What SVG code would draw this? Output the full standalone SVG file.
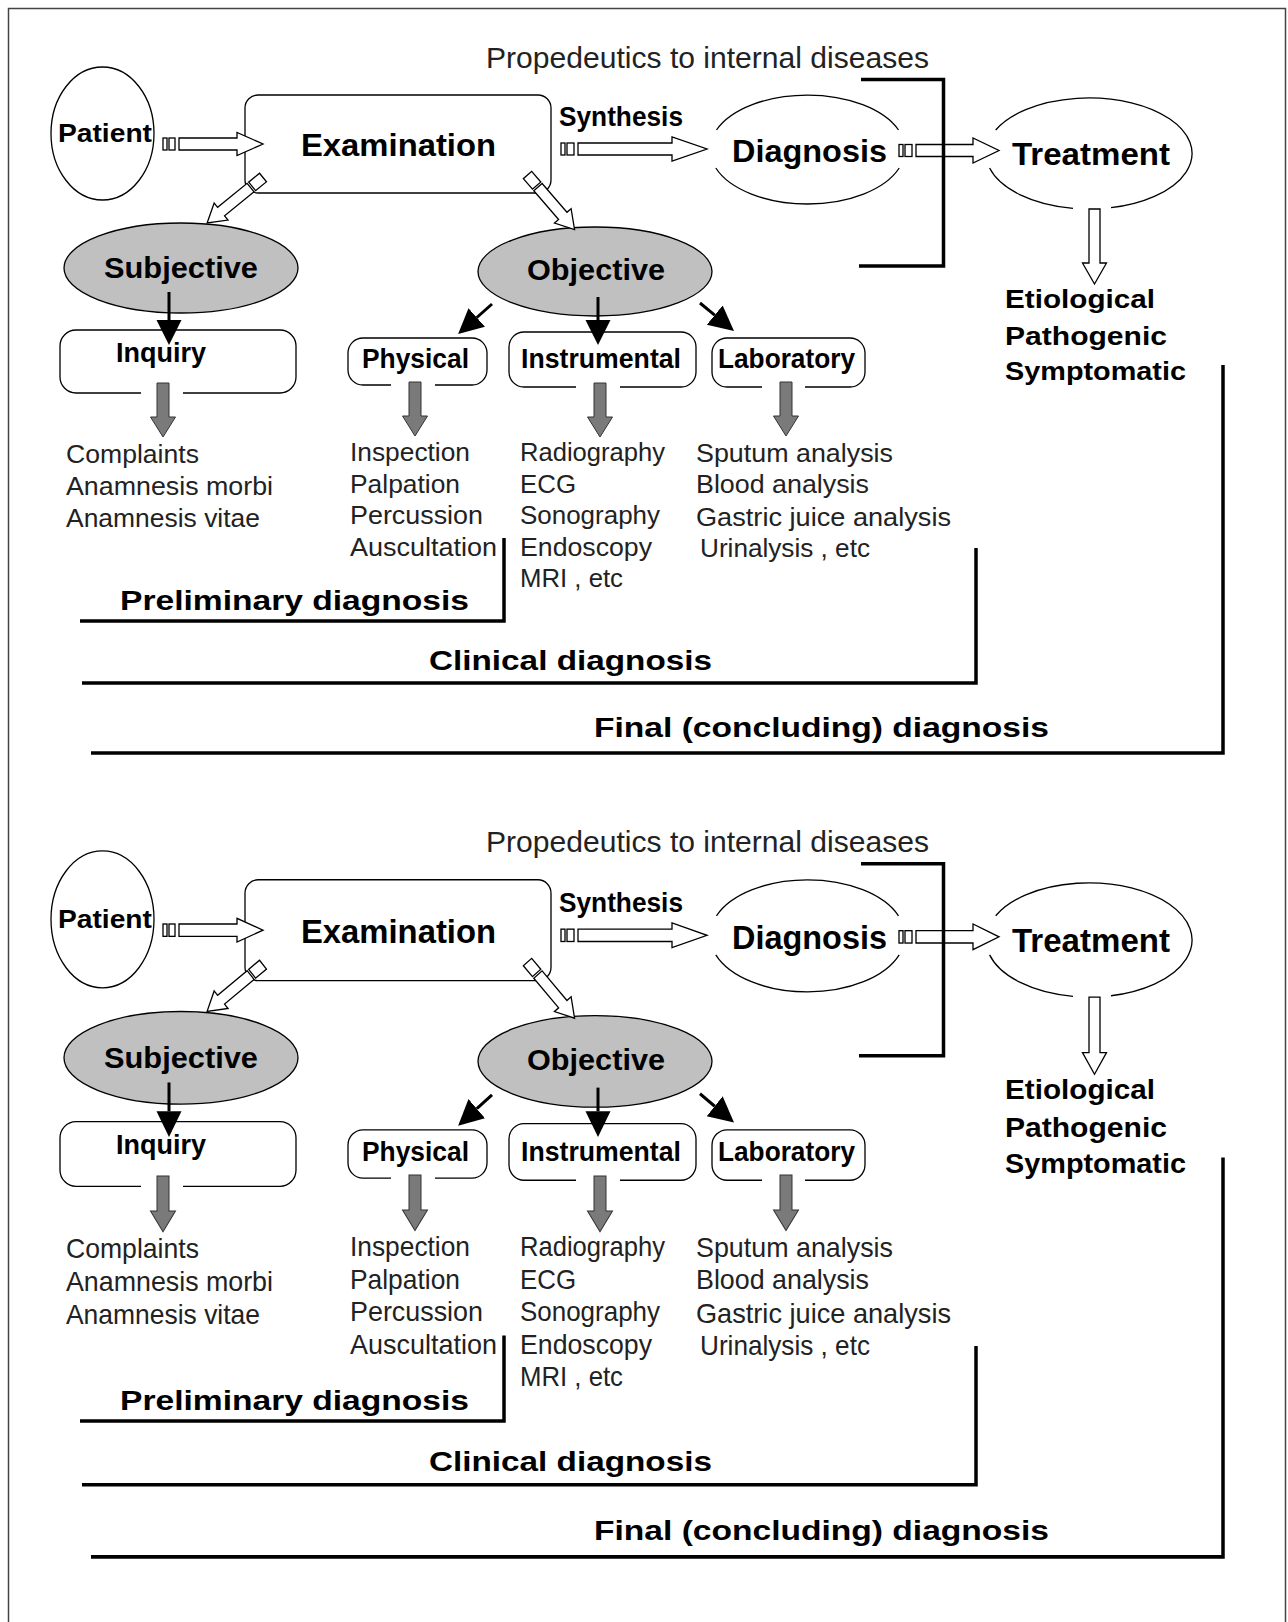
<svg xmlns="http://www.w3.org/2000/svg" xmlns:xlink="http://www.w3.org/1999/xlink" width="1288" height="1622" viewBox="0 0 1288 1622">
<style>
.node{fill:#fff;stroke:#000;stroke-width:1.3}
.arc{fill:none;stroke:#000;stroke-width:1.3}
.gray{fill:#c0c0c0;stroke:#000;stroke-width:1.3}
.hollow{fill:#fff;stroke:#000;stroke-width:1.3}
.blk{fill:none;stroke:#000;stroke-width:3;marker-end:url(#bh)}
.garrow{fill:#7a7a7a;stroke:#333;stroke-width:1}
.bracket{fill:none;stroke:#000;stroke-width:3.5}
.tb{font-family:"Liberation Sans",Arial,sans-serif;font-weight:bold;fill:#000}
.tr{font-family:"Liberation Sans",Arial,sans-serif;fill:#222}
.ti{font-family:"Liberation Sans",Arial,sans-serif;fill:#222;font-size:26px}
</style>
<defs>
<marker id="bh" markerUnits="userSpaceOnUse" markerWidth="26" markerHeight="26" refX="0" refY="12.5" orient="auto"><path d="M0,0 L25,12.5 L0,25 Z" fill="#000"/></marker>
<path id="ga" class="garrow" d="M-6,0 V34 H-12.5 L0,54 L12.5,34 H6 V0 Z"/>
</defs>
<rect x="0" y="0" width="1288" height="1622" fill="#fff"/>
<g id="frame"><path d="M8.5,1622 V8.5 H1285.5 V1622" fill="none" stroke="#444" stroke-width="1.5"/></g>

<g id="diagram-1">
 <g id="patient-1"><ellipse class="node" cx="102.5" cy="133.5" rx="51.5" ry="66.5"/><text class="tb" x="58" y="142" font-size="25" textLength="94" lengthAdjust="spacingAndGlyphs">Patient</text></g>
 <g id="examination-1"><rect class="node" x="245" y="95" width="306" height="98" rx="13"/><text class="tb" x="301" y="156" font-size="32" textLength="195" lengthAdjust="spacingAndGlyphs">Examination</text></g>
 <g id="diagnosis-1"><path class="arc" d="M716.5,130 A97.5,54.5 0 0 1 898.5,130 M715.8,168 A97.5,54.5 0 0 0 899.2,168"/><text class="tb" x="732" y="162" font-size="32" textLength="155" lengthAdjust="spacingAndGlyphs">Diagnosis</text></g>
 <g id="treatment-1"><path class="arc" d="M995.7,130 A103,55.5 0 1 1 1111,207.7 M989.6,168 A103,55.5 0 0 0 1073,208.3"/><text class="tb" x="1012" y="165" font-size="32" textLength="158" lengthAdjust="spacingAndGlyphs">Treatment</text></g>
 <g id="treatment-types-1"><text class="tb" x="1005" y="308" font-size="26" textLength="150" lengthAdjust="spacingAndGlyphs">Etiological</text><text class="tb" x="1005" y="345" font-size="26" textLength="162" lengthAdjust="spacingAndGlyphs">Pathogenic</text><text class="tb" x="1005" y="380" font-size="26" textLength="181" lengthAdjust="spacingAndGlyphs">Symptomatic</text></g>
 <g id="subjective-1"><ellipse class="gray" cx="181" cy="268" rx="117" ry="45"/><text class="tb" x="104" y="278" font-size="29" textLength="154" lengthAdjust="spacingAndGlyphs">Subjective</text></g>
 <g id="objective-1"><ellipse class="gray" cx="595" cy="271.5" rx="117" ry="44.5"/><text class="tb" x="527" y="280" font-size="29" textLength="138" lengthAdjust="spacingAndGlyphs">Objective</text></g>
 <g id="inquiry-1"><path class="arc" d="M183,393 H280 A16,16 0 0 0 296,377 V346 A16,16 0 0 0 280,330 H76 A16,16 0 0 0 60,346 V377 A16,16 0 0 0 76,393 H141"/><text class="tb" x="116" y="362" font-size="27" textLength="90" lengthAdjust="spacingAndGlyphs">Inquiry</text></g>
 <g id="physical-1"><path class="arc" d="M435,385 H472 A15,15 0 0 0 487,370 V353 A15,15 0 0 0 472,338 H363 A15,15 0 0 0 348,353 V370 A15,15 0 0 0 363,385 H391"/><text class="tb" x="362" y="368" font-size="27" textLength="107" lengthAdjust="spacingAndGlyphs">Physical</text></g>
 <g id="instrumental-1"><path class="arc" d="M620,387 H681 A15,15 0 0 0 696,372 V347 A15,15 0 0 0 681,332 H524 A15,15 0 0 0 509,347 V372 A15,15 0 0 0 524,387 H576"/><text class="tb" x="521" y="368" font-size="27" textLength="160" lengthAdjust="spacingAndGlyphs">Instrumental</text></g>
 <g id="laboratory-1"><path class="arc" d="M805,387 H850 A15,15 0 0 0 865,372 V353 A15,15 0 0 0 850,338 H727 A15,15 0 0 0 712,353 V372 A15,15 0 0 0 727,387 H762"/><text class="tb" x="718" y="368" font-size="27" textLength="137" lengthAdjust="spacingAndGlyphs">Laboratory</text></g>
 <g id="inquiry-items-1"><text class="ti" x="66" y="463" textLength="133" lengthAdjust="spacingAndGlyphs">Complaints</text><text class="ti" x="66" y="495" textLength="207" lengthAdjust="spacingAndGlyphs">Anamnesis morbi</text><text class="ti" x="66" y="527" textLength="194" lengthAdjust="spacingAndGlyphs">Anamnesis vitae</text></g>
 <g id="physical-items-1"><text class="ti" x="350" y="461" textLength="120" lengthAdjust="spacingAndGlyphs">Inspection</text><text class="ti" x="350" y="493" textLength="110" lengthAdjust="spacingAndGlyphs">Palpation</text><text class="ti" x="350" y="524" textLength="133" lengthAdjust="spacingAndGlyphs">Percussion</text><text class="ti" x="350" y="556" textLength="147" lengthAdjust="spacingAndGlyphs">Auscultation</text></g>
 <g id="instrumental-items-1"><text class="ti" x="520" y="461" textLength="145" lengthAdjust="spacingAndGlyphs">Radiography</text><text class="ti" x="520" y="493" textLength="56" lengthAdjust="spacingAndGlyphs">ECG</text><text class="ti" x="520" y="524" textLength="140" lengthAdjust="spacingAndGlyphs">Sonography</text><text class="ti" x="520" y="556" textLength="132" lengthAdjust="spacingAndGlyphs">Endoscopy</text><text class="ti" x="520" y="587" textLength="103" lengthAdjust="spacingAndGlyphs">MRI , etc</text></g>
 <g id="laboratory-items-1"><text class="ti" x="696" y="462" textLength="197" lengthAdjust="spacingAndGlyphs">Sputum analysis</text><text class="ti" x="696" y="493" textLength="173" lengthAdjust="spacingAndGlyphs">Blood analysis</text><text class="ti" x="696" y="526" textLength="255" lengthAdjust="spacingAndGlyphs">Gastric juice analysis</text><text class="ti" x="700" y="557" textLength="170" lengthAdjust="spacingAndGlyphs">Urinalysis , etc</text></g>
 <g id="connectors-1">
  <rect class="hollow" x="163" y="138" width="4" height="12"/><rect class="hollow" x="169" y="138" width="6" height="12"/>
  <path class="hollow" d="M179,138 H237 V132.5 L263,144 L237,155.5 V150 H179 Z"/>
  <rect class="hollow" x="561" y="143" width="4" height="12"/><rect class="hollow" x="567" y="143" width="7" height="12"/>
  <path class="hollow" d="M578,143 H672 V137 L707,149 L672,161 V155 H578 Z"/>
  <text class="tb" x="559" y="126" font-size="27" textLength="124" lengthAdjust="spacingAndGlyphs">Synthesis</text>
  <rect class="hollow" x="899" y="144.5" width="4" height="12"/><rect class="hollow" x="905" y="144.5" width="7" height="12"/>
  <path class="hollow" d="M916,144.5 H973 V138 L999,150.5 L973,163 V156.5 H916 Z"/>
  <path class="hollow" d="M1089,209 V263 H1082.5 L1094.5,284 L1106.5,263 H1100 V209 Z"/>
  <g transform="translate(263,177.5) rotate(140.9)"><rect class="hollow" x="0" y="-5.5" width="14" height="11"/><path class="hollow" d="M16,-5.5 H54 V-11 L72,0 L54,11 V5.5 H16 Z"/></g>
  <g transform="translate(527.5,175) rotate(49.2)"><rect class="hollow" x="0" y="-5.5" width="14" height="11"/><path class="hollow" d="M16,-5.5 H54 V-11 L72,0 L54,11 V5.5 H16 Z"/></g>
  <path class="blk" d="M169,292 V320"/>
  <path class="blk" d="M598,297 V320"/>
  <path class="blk" d="M492,304 L476.8,317.5"/>
  <path class="blk" d="M700,303 L714.7,315.1"/>
  <use xlink:href="#ga" href="#ga" x="163" y="383"/>
  <use xlink:href="#ga" href="#ga" x="415" y="382"/>
  <use xlink:href="#ga" href="#ga" x="600" y="383"/>
  <use xlink:href="#ga" href="#ga" x="786" y="382"/>
 </g>
 <g id="propedeutics-1"><text class="tr" x="486" y="68" font-size="29" textLength="443" lengthAdjust="spacingAndGlyphs">Propedeutics to internal diseases</text><path class="bracket" d="M861,79.5 H943.5 V266 H859"/></g>
 <g id="preliminary-1"><text class="tb" x="120" y="610" font-size="27" textLength="349" lengthAdjust="spacingAndGlyphs">Preliminary diagnosis</text><path class="bracket" d="M80,621 H504 V538"/></g>
 <g id="clinical-1"><text class="tb" x="429" y="670" font-size="27" textLength="283" lengthAdjust="spacingAndGlyphs">Clinical diagnosis</text><path class="bracket" d="M82,683 H976 V548"/></g>
 <g id="final-1"><text class="tb" x="594" y="737" font-size="27" textLength="455" lengthAdjust="spacingAndGlyphs">Final (concluding) diagnosis</text><path class="bracket" d="M91,753 H1223 V365"/></g>
</g>

<g id="diagram-2" transform="matrix(1 0 0 1.029 0 782)">
 <g id="patient-2"><ellipse class="node" cx="102.5" cy="133.5" rx="51.5" ry="66.5"/><text class="tb" x="58" y="142" font-size="25" textLength="94" lengthAdjust="spacingAndGlyphs">Patient</text></g>
 <g id="examination-2"><rect class="node" x="245" y="95" width="306" height="98" rx="13"/><text class="tb" x="301" y="156" font-size="32" textLength="195" lengthAdjust="spacingAndGlyphs">Examination</text></g>
 <g id="diagnosis-2"><path class="arc" d="M716.5,130 A97.5,54.5 0 0 1 898.5,130 M715.8,168 A97.5,54.5 0 0 0 899.2,168"/><text class="tb" x="732" y="162" font-size="32" textLength="155" lengthAdjust="spacingAndGlyphs">Diagnosis</text></g>
 <g id="treatment-2"><path class="arc" d="M995.7,130 A103,55.5 0 1 1 1111,207.7 M989.6,168 A103,55.5 0 0 0 1073,208.3"/><text class="tb" x="1012" y="165" font-size="32" textLength="158" lengthAdjust="spacingAndGlyphs">Treatment</text></g>
 <g id="treatment-types-2"><text class="tb" x="1005" y="308" font-size="26" textLength="150" lengthAdjust="spacingAndGlyphs">Etiological</text><text class="tb" x="1005" y="345" font-size="26" textLength="162" lengthAdjust="spacingAndGlyphs">Pathogenic</text><text class="tb" x="1005" y="380" font-size="26" textLength="181" lengthAdjust="spacingAndGlyphs">Symptomatic</text></g>
 <g id="subjective-2"><ellipse class="gray" cx="181" cy="268" rx="117" ry="45"/><text class="tb" x="104" y="278" font-size="29" textLength="154" lengthAdjust="spacingAndGlyphs">Subjective</text></g>
 <g id="objective-2"><ellipse class="gray" cx="595" cy="271.5" rx="117" ry="44.5"/><text class="tb" x="527" y="280" font-size="29" textLength="138" lengthAdjust="spacingAndGlyphs">Objective</text></g>
 <g id="inquiry-2"><path class="arc" d="M183,393 H280 A16,16 0 0 0 296,377 V346 A16,16 0 0 0 280,330 H76 A16,16 0 0 0 60,346 V377 A16,16 0 0 0 76,393 H141"/><text class="tb" x="116" y="362" font-size="27" textLength="90" lengthAdjust="spacingAndGlyphs">Inquiry</text></g>
 <g id="physical-2"><path class="arc" d="M435,385 H472 A15,15 0 0 0 487,370 V353 A15,15 0 0 0 472,338 H363 A15,15 0 0 0 348,353 V370 A15,15 0 0 0 363,385 H391"/><text class="tb" x="362" y="368" font-size="27" textLength="107" lengthAdjust="spacingAndGlyphs">Physical</text></g>
 <g id="instrumental-2"><path class="arc" d="M620,387 H681 A15,15 0 0 0 696,372 V347 A15,15 0 0 0 681,332 H524 A15,15 0 0 0 509,347 V372 A15,15 0 0 0 524,387 H576"/><text class="tb" x="521" y="368" font-size="27" textLength="160" lengthAdjust="spacingAndGlyphs">Instrumental</text></g>
 <g id="laboratory-2"><path class="arc" d="M805,387 H850 A15,15 0 0 0 865,372 V353 A15,15 0 0 0 850,338 H727 A15,15 0 0 0 712,353 V372 A15,15 0 0 0 727,387 H762"/><text class="tb" x="718" y="368" font-size="27" textLength="137" lengthAdjust="spacingAndGlyphs">Laboratory</text></g>
 <g id="inquiry-items-2"><text class="ti" x="66" y="463" textLength="133" lengthAdjust="spacingAndGlyphs">Complaints</text><text class="ti" x="66" y="495" textLength="207" lengthAdjust="spacingAndGlyphs">Anamnesis morbi</text><text class="ti" x="66" y="527" textLength="194" lengthAdjust="spacingAndGlyphs">Anamnesis vitae</text></g>
 <g id="physical-items-2"><text class="ti" x="350" y="461" textLength="120" lengthAdjust="spacingAndGlyphs">Inspection</text><text class="ti" x="350" y="493" textLength="110" lengthAdjust="spacingAndGlyphs">Palpation</text><text class="ti" x="350" y="524" textLength="133" lengthAdjust="spacingAndGlyphs">Percussion</text><text class="ti" x="350" y="556" textLength="147" lengthAdjust="spacingAndGlyphs">Auscultation</text></g>
 <g id="instrumental-items-2"><text class="ti" x="520" y="461" textLength="145" lengthAdjust="spacingAndGlyphs">Radiography</text><text class="ti" x="520" y="493" textLength="56" lengthAdjust="spacingAndGlyphs">ECG</text><text class="ti" x="520" y="524" textLength="140" lengthAdjust="spacingAndGlyphs">Sonography</text><text class="ti" x="520" y="556" textLength="132" lengthAdjust="spacingAndGlyphs">Endoscopy</text><text class="ti" x="520" y="587" textLength="103" lengthAdjust="spacingAndGlyphs">MRI , etc</text></g>
 <g id="laboratory-items-2"><text class="ti" x="696" y="462" textLength="197" lengthAdjust="spacingAndGlyphs">Sputum analysis</text><text class="ti" x="696" y="493" textLength="173" lengthAdjust="spacingAndGlyphs">Blood analysis</text><text class="ti" x="696" y="526" textLength="255" lengthAdjust="spacingAndGlyphs">Gastric juice analysis</text><text class="ti" x="700" y="557" textLength="170" lengthAdjust="spacingAndGlyphs">Urinalysis , etc</text></g>
 <g id="connectors-2">
  <rect class="hollow" x="163" y="138" width="4" height="12"/><rect class="hollow" x="169" y="138" width="6" height="12"/>
  <path class="hollow" d="M179,138 H237 V132.5 L263,144 L237,155.5 V150 H179 Z"/>
  <rect class="hollow" x="561" y="143" width="4" height="12"/><rect class="hollow" x="567" y="143" width="7" height="12"/>
  <path class="hollow" d="M578,143 H672 V137 L707,149 L672,161 V155 H578 Z"/>
  <text class="tb" x="559" y="126" font-size="27" textLength="124" lengthAdjust="spacingAndGlyphs">Synthesis</text>
  <rect class="hollow" x="899" y="144.5" width="4" height="12"/><rect class="hollow" x="905" y="144.5" width="7" height="12"/>
  <path class="hollow" d="M916,144.5 H973 V138 L999,150.5 L973,163 V156.5 H916 Z"/>
  <path class="hollow" d="M1089,209 V263 H1082.5 L1094.5,284 L1106.5,263 H1100 V209 Z"/>
  <g transform="translate(263,177.5) rotate(140.9)"><rect class="hollow" x="0" y="-5.5" width="14" height="11"/><path class="hollow" d="M16,-5.5 H54 V-11 L72,0 L54,11 V5.5 H16 Z"/></g>
  <g transform="translate(527.5,175) rotate(49.2)"><rect class="hollow" x="0" y="-5.5" width="14" height="11"/><path class="hollow" d="M16,-5.5 H54 V-11 L72,0 L54,11 V5.5 H16 Z"/></g>
  <path class="blk" d="M169,292 V320"/>
  <path class="blk" d="M598,297 V320"/>
  <path class="blk" d="M492,304 L476.8,317.5"/>
  <path class="blk" d="M700,303 L714.7,315.1"/>
  <use xlink:href="#ga" href="#ga" x="163" y="383"/>
  <use xlink:href="#ga" href="#ga" x="415" y="382"/>
  <use xlink:href="#ga" href="#ga" x="600" y="383"/>
  <use xlink:href="#ga" href="#ga" x="786" y="382"/>
 </g>
 <g id="propedeutics-2"><text class="tr" x="486" y="68" font-size="29" textLength="443" lengthAdjust="spacingAndGlyphs">Propedeutics to internal diseases</text><path class="bracket" d="M861,79.5 H943.5 V266 H859"/></g>
 <g id="preliminary-2"><text class="tb" x="120" y="610" font-size="27" textLength="349" lengthAdjust="spacingAndGlyphs">Preliminary diagnosis</text><path class="bracket" d="M80,621 H504 V538"/></g>
 <g id="clinical-2"><text class="tb" x="429" y="670" font-size="27" textLength="283" lengthAdjust="spacingAndGlyphs">Clinical diagnosis</text><path class="bracket" d="M82,683 H976 V548"/></g>
 <g id="final-2"><text class="tb" x="594" y="737" font-size="27" textLength="455" lengthAdjust="spacingAndGlyphs">Final (concluding) diagnosis</text><path class="bracket" d="M91,753 H1223 V365"/></g>
</g>
</svg>
